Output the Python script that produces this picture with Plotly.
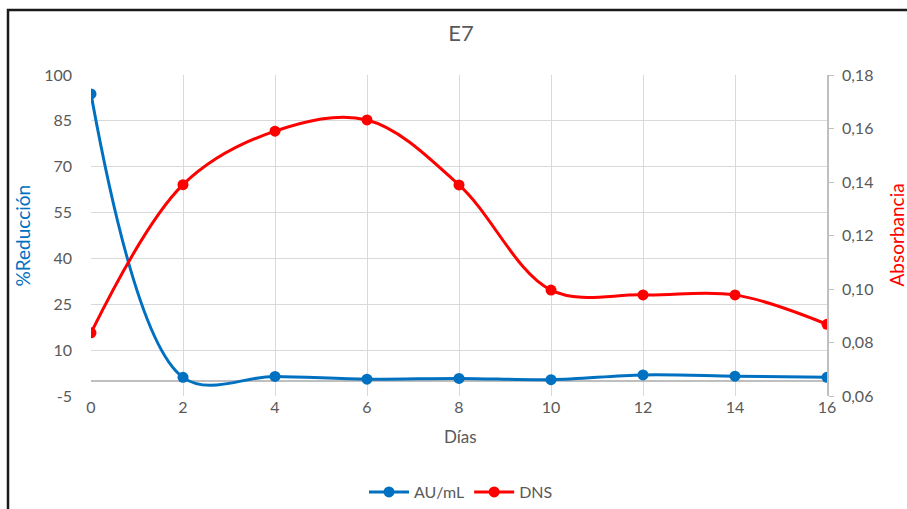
import plotly.graph_objects as go

dias = [0, 2, 4, 6, 8, 10, 12, 14, 16]
au_ml = [93.8, 1.1, 1.4, 0.5, 0.75, 0.35, 1.9, 1.5, 1.1]
dns = [0.0836, 0.139, 0.159, 0.1632, 0.1389, 0.0996, 0.0978, 0.0978, 0.0868]
y_ticks = [-5, 10, 25, 40, 55, 70, 85, 100]
y_ticklabels = ["-5", "10", "25", "40", "55", "70", "85", "100"]

BLUE = "#0070C0"
RED = "#FF0000"
GRAY_TXT = "#595959"
FONT = "Lato, 'Open Sans', sans-serif"

W, H = 907, 509
PL, PR, PT, PB = 91, 827, 75, 396  # plot area in window pixels
PW, PH = PR - PL, PB - PT

fig = go.Figure()
fig.add_trace(go.Scatter(
    x=dias, y=au_ml, name="AU/mL", mode="lines+markers",
    line=dict(color=BLUE, width=3, shape="spline", smoothing=1.0),
    marker=dict(color=BLUE, size=11), yaxis="y"))
fig.add_trace(go.Scatter(
    x=dias, y=dns, name="DNS", mode="lines+markers",
    line=dict(color=RED, width=3, shape="spline", smoothing=1.0),
    marker=dict(color=RED, size=11), yaxis="y2"))

fig.update_layout(
    width=W, height=H,
    margin=dict(l=PL, r=W - PR, t=PT, b=H - PB, autoexpand=False),
    paper_bgcolor="white", plot_bgcolor="white",
    separators=",.",
    font=dict(family=FONT, color=GRAY_TXT, size=16),
    title=dict(text="E7", x=461 / W, xanchor="center", y=1 - 33 / H,
               yanchor="middle", font=dict(size=22, color=GRAY_TXT, family=FONT)),
    xaxis=dict(range=[0, 16], tickvals=dias, showgrid=True, gridcolor="#D9D9D9", gridwidth=1,
               zeroline=False, showline=False, ticks="", ticklabelstandoff=0,
               tickfont=dict(size=16, color=GRAY_TXT)),
    yaxis=dict(range=[-5, 100], tickvals=y_ticks, ticktext=y_ticklabels, showgrid=True,
               gridcolor="#D9D9D9", gridwidth=1, zeroline=True, zerolinecolor="#BFBFBF",
               zerolinewidth=1.5, showline=False, ticks="", ticklabelstandoff=18,
               tickfont=dict(size=16, color=GRAY_TXT)),
    yaxis2=dict(range=[0.06, 0.18], dtick=0.02, tick0=0.06, tickformat=".2f", overlaying="y",
                side="right", showgrid=False, zeroline=False, showline=True,
                linecolor="#BFBFBF", linewidth=1.5, ticks="outside", ticklen=5,
                tickcolor="#BFBFBF", ticklabelstandoff=5,
                tickfont=dict(size=16, color=GRAY_TXT)),
    showlegend=True,
    legend=dict(orientation="h", x=(461 - PL) / PW, xanchor="center", y=(PB - 492) / PH,
                yanchor="middle", font=dict(size=16, color=GRAY_TXT), itemwidth=40),
)

fig.add_annotation(text="%Reducción", xref="paper", yref="paper", x=(22 - PL) / PW, y=0.5,
                   xanchor="center", yanchor="middle",
                   textangle=-90, showarrow=False, font=dict(size=19, color=BLUE, family=FONT))
fig.add_annotation(text="Absorbancia", xref="paper", yref="paper", x=(896 - PL) / PW, y=0.5,
                   xanchor="center", yanchor="middle",
                   textangle=-90, showarrow=False, font=dict(size=19, color=RED, family=FONT))
fig.add_annotation(text="Días", xref="paper", yref="paper", x=(461 - PL) / PW,
                   y=(PB - 437) / PH, xanchor="center", yanchor="middle", showarrow=False,
                   font=dict(size=17, color=GRAY_TXT, family=FONT))

# chart frame
fig.add_shape(type="rect", xref="paper", yref="paper",
              x0=(8 - PL) / PW, x1=(930 - PL) / PW,
              y0=(PB - 540) / PH, y1=(PB - 10) / PH,
              line=dict(color="#1a1a1a", width=2.5), fillcolor="rgba(0,0,0,0)", layer="below")

fig.write_html(
    "out.html",
    config={"displayModeBar": False},
    post_script="document.body.style.margin='0';document.body.style.overflow='hidden';",
)
